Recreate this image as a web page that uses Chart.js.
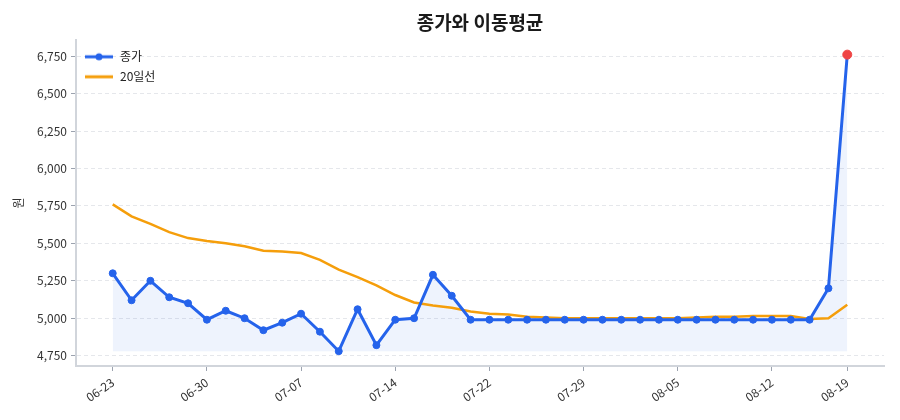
<!DOCTYPE html>
<html><head><meta charset="utf-8">
<script src="https://cdn.jsdelivr.net/npm/chart.js@4.4.1/dist/chart.umd.min.js"></script>
<style>html,body{margin:0;padding:0;background:#fff;}#wrap{width:900px;height:420px;}</style>
</head><body><div id="wrap"><canvas id="c" width="900" height="420"></canvas></div>
<script>
const dates = ['06-23','06-24','06-25','06-26','06-27','06-30','07-01','07-02','07-03','07-04',
  '07-07','07-08','07-09','07-10','07-11','07-14','07-15','07-16','07-17','07-18',
  '07-22','07-23','07-24','07-25','07-28','07-29','07-30','07-31','08-01','08-04',
  '08-05','08-06','08-07','08-08','08-11','08-12','08-13','08-14','08-18','08-19'];
const closePrice = [5300,5120,5250,5140,5100,4990,5050,5000,4920,4970,
  5030,4910,4780,5060,4820,4990,5000,5290,5150,4990,
  4990,4990,4990,4990,4990,4990,4990,4990,4990,4990,
  4990,4990,4990,4990,4990,4990,4990,4990,5200,6760];
const ma20 = [5760,5680,5630,5575,5535,5515,5500,5480,5450,5445,
  5435,5390,5325,5275,5220,5155,5105,5085,5070,5045,
  5030,5025,5010,5005,5000,5000,5000,5000,5000,5000,
  5000,5005,5010,5010,5015,5015,5015,4995,5000,5090];
const xTickLabels = ['06-23','06-30','07-07','07-14','07-22','07-29','08-05','08-12','08-19'];
const yTickValues = [4750,5000,5250,5500,5750,6000,6250,6500,6750];
const seriesNames = ['종가','20일선'];
const chartTitle = '종가와 이동평균';
const yAxisTitle = '원';

const FONT = "'Noto Sans CJK KR','Noto Sans',sans-serif";
const BLUE = '#2563eb', ORANGE = '#f59e0b', RED = '#ef4444';

function legendImg(color, dot) {
  const c = document.createElement('canvas'); c.width = 30; c.height = 10;
  const g = c.getContext('2d');
  g.strokeStyle = color; g.lineWidth = 3; g.lineCap = 'butt';
  g.beginPath(); g.moveTo(1, 5); g.lineTo(29, 5); g.stroke();
  if (dot) { g.fillStyle = color; g.beginPath(); g.arc(15, 5, 3.5, 0, Math.PI * 2); g.fill(); }
  return c;
}
const legendImgs = [legendImg(BLUE, true), legendImg(ORANGE, false)];

const n = closePrice.length;
const lastIdx = n - 1;
const margin = (n - 1) * 0.05;
const yMinData = Math.min(...closePrice, ...ma20), yMaxData = Math.max(...closePrice, ...ma20);
const yPad = (yMaxData - yMinData) * 0.05;

const placeBoxes = {
  id: 'placeBoxes',
  beforeDraw(chart) {
    const ca = chart.chartArea;
    const t = chart.titleBlock;
    if (t) { t.left = ca.left; t.right = ca.right; }
    const l = chart.legend;
    if (l) {
      const w = l.width, h = l.height;
      l.left = ca.left; l.right = ca.left + w;
      l.top = ca.top + 3; l.bottom = l.top + h;
    }
  }
};

new Chart(document.getElementById('c'), {
  type: 'line',
  data: {
    datasets: [
      {
        label: seriesNames[0],
        data: closePrice.map((v, i) => ({x: i, y: v})),
        borderColor: BLUE, borderWidth: 3, tension: 0,
        pointRadius: ctx => ctx.dataIndex === lastIdx ? 4.5 : 3.5,
        pointBackgroundColor: ctx => ctx.dataIndex === lastIdx ? RED : BLUE,
        pointBorderColor: ctx => ctx.dataIndex === lastIdx ? RED : BLUE,
        pointBorderWidth: 1,
        fill: {value: Math.min(...closePrice)},
        backgroundColor: 'rgba(37,99,235,0.08)'
      },
      {
        label: seriesNames[1],
        data: ma20.map((v, i) => ({x: i, y: v})),
        borderColor: ORANGE, borderWidth: 2.5, tension: 0,
        pointRadius: 0, fill: false
      }
    ]
  },
  plugins: [placeBoxes],
  options: {
    responsive: false, animation: false,
    layout: {padding: {left: 0, right: 16, top: 0, bottom: 0}},
    plugins: {
      filler: {drawTime: 'beforeDatasetsDraw'},
      tooltip: {enabled: false},
      title: {display: true, text: chartTitle, color: '#1a1a1a',
        font: {family: FONT, size: 19, weight: 'bold'}, padding: {top: 11, bottom: 6}},
      legend: {
        position: 'chartArea', align: 'start',
        labels: {
          usePointStyle: true, pointStyleWidth: 30, boxHeight: 10, padding: 8,
          color: '#222', font: {family: FONT, size: 12},
          generateLabels: chart => Chart.defaults.plugins.legend.labels.generateLabels(chart)
            .map((it, i) => Object.assign(it, {pointStyle: legendImgs[i]}))
        }
      }
    },
    scales: {
      x: {
        type: 'linear', min: -margin, max: lastIdx + margin,
        afterBuildTicks: s => { s.ticks = xTickLabels.map(l => ({value: dates.indexOf(l)})); },
        afterFit: s => { s.height = 54; },
        ticks: {autoSkip: false, minRotation: 35, maxRotation: 35, padding: 4, color: '#333',
          font: {family: FONT, size: 12}, callback: v => dates[v]},
        grid: {drawOnChartArea: false, drawTicks: true, tickLength: 5, tickColor: '#9ca3af'},
        border: {display: true, color: '#d1d5db', width: 2}
      },
      y: {
        type: 'linear', min: yMinData - yPad, max: yMaxData + yPad,
        afterBuildTicks: s => { s.ticks = yTickValues.map(v => ({value: v})); },
        afterFit: s => { s.width = 76; },
        title: {display: true, text: yAxisTitle, color: '#333', font: {family: FONT, size: 12},
          padding: {top: 11, bottom: 0}},
        ticks: {padding: 4, color: '#333', font: {family: FONT, size: 12},
          callback: v => v.toLocaleString('en-US')},
        grid: {color: '#e5e7eb', lineWidth: 1, tickLength: 5, tickColor: '#9ca3af', tickBorderDash: []},
        border: {display: true, color: '#d1d5db', width: 2, dash: [4, 3]}
      }
    }
  }
});
</script>
</body></html>
